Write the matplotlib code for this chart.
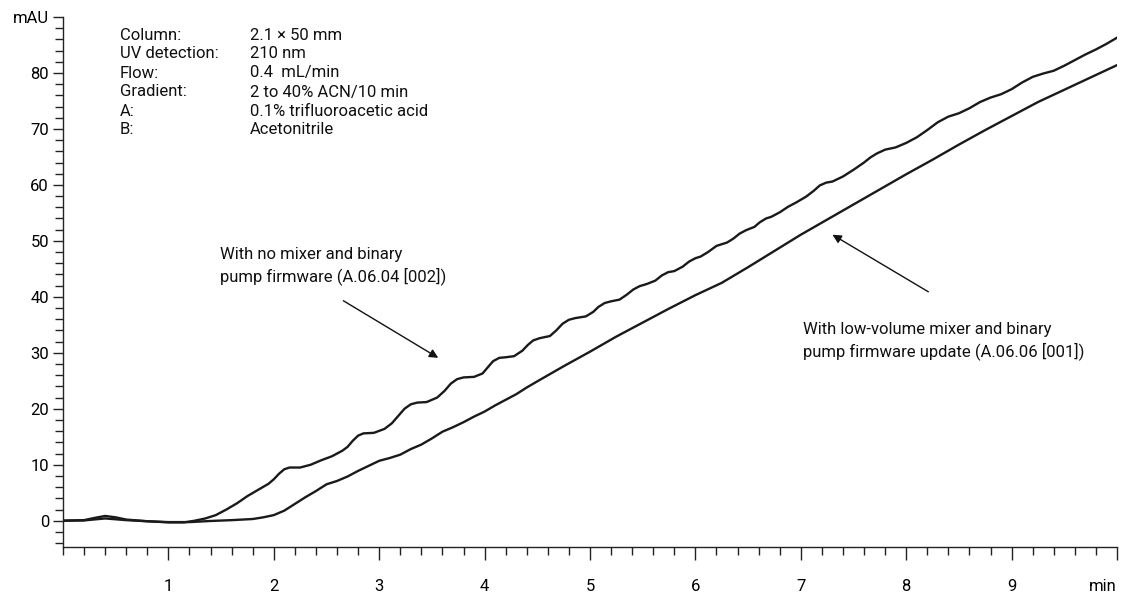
import matplotlib
matplotlib.use("Agg")
import matplotlib.pyplot as plt
from matplotlib.ticker import MultipleLocator

plt.rcParams['font.family'] = ['Roboto', 'DejaVu Sans']

# ---- data ----
t_nomixer = [0.0, 0.2, 0.3, 0.4, 0.5, 0.6, 0.8, 1.0, 1.15, 1.25, 1.35, 1.45, 1.55, 1.65,
             1.75, 1.85, 1.95, 2.0, 2.05, 2.1, 2.15, 2.25, 2.35, 2.45, 2.55, 2.65, 2.7, 2.75,
             2.8, 2.85, 2.95, 3.05, 3.12, 3.18, 3.24, 3.3, 3.36, 3.45, 3.55, 3.62, 3.68,
             3.74, 3.8, 3.9, 3.98, 4.03, 4.08, 4.14, 4.2, 4.28, 4.36, 4.41, 4.46, 4.52,
             4.62, 4.68, 4.74, 4.8, 4.86, 4.96, 5.03, 5.08, 5.14, 5.2, 5.28, 5.35, 5.41,
             5.47, 5.54, 5.62, 5.68, 5.74, 5.8, 5.88, 5.94, 6.0, 6.05, 6.12, 6.2, 6.3,
             6.36, 6.42, 6.48, 6.56, 6.61, 6.67, 6.72, 6.8, 6.88, 6.96, 7.05, 7.12, 7.18,
             7.24, 7.3, 7.4, 7.5, 7.6, 7.66, 7.72, 7.8, 7.9, 8.0, 8.1, 8.2, 8.3, 8.4, 8.5,
             8.6, 8.7, 8.8, 8.9, 9.0, 9.1, 9.2, 9.3, 9.4, 9.5, 9.6, 9.7, 9.8, 9.9, 10.0]
y_nomixer = [0.0, 0.1, 0.5, 0.85, 0.6, 0.2, -0.1, -0.3, -0.3, 0.0, 0.4, 1.0, 2.0, 3.1,
             4.4, 5.5, 6.6, 7.4, 8.4, 9.2, 9.5, 9.5, 10.0, 10.8, 11.5, 12.5, 13.2, 14.3,
             15.2, 15.6, 15.7, 16.4, 17.4, 18.7, 20.0, 20.8, 21.1, 21.2, 22.0, 23.2, 24.5,
             25.3, 25.6, 25.7, 26.3, 27.4, 28.5, 29.1, 29.2, 29.4, 30.4, 31.4, 32.2, 32.6,
             33.0, 34.0, 35.2, 35.9, 36.2, 36.5, 37.3, 38.2, 38.9, 39.2, 39.5, 40.4, 41.3,
             41.9, 42.3, 42.9, 43.8, 44.4, 44.6, 45.4, 46.3, 46.9, 47.2, 48.0, 49.1, 49.7,
             50.4, 51.3, 51.9, 52.5, 53.3, 54.0, 54.3, 55.1, 56.1, 56.9, 57.9, 58.9, 59.9,
             60.4, 60.6, 61.5, 62.7, 64.0, 64.9, 65.6, 66.3, 66.7, 67.5, 68.5, 69.8, 71.2,
             72.2, 72.8, 73.7, 74.8, 75.6, 76.2, 77.1, 78.3, 79.3, 79.9, 80.4, 81.3, 82.3,
             83.3, 84.2, 85.2, 86.3]

t_lowvol = [0.0, 0.2, 0.4, 0.6, 0.8, 1.0, 1.2, 1.4, 1.6, 1.8, 1.9, 2.0, 2.1, 2.2, 2.3,
            2.4, 2.5, 2.6, 2.7, 2.8, 2.9, 3.0, 3.1, 3.2, 3.3, 3.4, 3.5, 3.6, 3.7, 3.8,
            3.9, 4.0, 4.1, 4.2, 4.3, 4.4, 4.5, 4.75, 5.0, 5.25, 5.5, 5.75, 6.0, 6.25,
            6.5, 6.75, 7.0, 7.25, 7.5, 7.75, 8.0, 8.25, 8.5, 8.75, 9.0, 9.25, 9.5, 9.75, 10.0]
y_lowvol = [0.0, 0.05, 0.4, 0.1, -0.1, -0.25, -0.25, -0.05, 0.1, 0.3, 0.6, 1.0, 1.8, 3.0,
            4.2, 5.3, 6.5, 7.1, 7.9, 8.9, 9.8, 10.7, 11.2, 11.8, 12.8, 13.6, 14.7, 15.9,
            16.7, 17.6, 18.6, 19.5, 20.6, 21.6, 22.6, 23.8, 24.9, 27.6, 30.2, 32.9, 35.4,
            37.9, 40.3, 42.5, 45.3, 48.2, 51.1, 53.8, 56.5, 59.2, 61.9, 64.5, 67.2, 69.8,
            72.3, 74.8, 77.0, 79.2, 81.4]

info_keys = ["Column:", "UV detection:", "Flow:", "Gradient:", "A:", "B:"]
info_vals = ["2.1 \u00d7 50 mm", "210 nm", "0.4  mL/min", "2 to 40% ACN/10 min",
             "0.1% trifluoroacetic acid", "Acetonitrile"]

x_ticks = [1, 2, 3, 4, 5, 6, 7, 8, 9, 10]
x_labels = ["1", "2", "3", "4", "5", "6", "7", "8", "9", "min"]
y_ticks = [0, 10, 20, 30, 40, 50, 60, 70, 80, 90]
y_labels = ["0", "10", "20", "30", "40", "50", "60", "70", "80", "mAU"]

label_nomixer = "With no mixer and binary\npump firmware (A.06.04 [002])"
label_lowvol = "With low-volume mixer and binary\npump firmware update (A.06.06 [001])"

# ---- figure ----
W, H = 1121, 595
fig = plt.figure(figsize=(W / 100, H / 100), dpi=100)
ax = fig.add_axes([63 / W, (H - 547) / H, (1117 - 63) / W, (547 - 17) / H])

line_col = "#1a1a1a"
ax.plot(t_nomixer, y_nomixer, color=line_col, lw=1.7, solid_joinstyle='round')
ax.plot(t_lowvol, y_lowvol, color=line_col, lw=1.7, solid_joinstyle='round')

ax.set_xlim(0, 10)
ax.set_ylim(-4.7, 90)
for s in ["top", "right"]:
    ax.spines[s].set_visible(False)
for s in ["left", "bottom"]:
    ax.spines[s].set_linewidth(1.0)
    ax.spines[s].set_color("#222222")

ax.set_xticks(x_ticks)
ax.set_xticklabels(x_labels)
ax.xaxis.set_minor_locator(MultipleLocator(0.2))
ax.set_yticks(y_ticks)
ax.set_yticklabels(y_labels)
ax.yaxis.set_minor_locator(MultipleLocator(2))

fs = 12
ax.tick_params(axis='x', which='major', direction='out', length=9, width=1, pad=14,
               labelsize=fs, color="#222222")
ax.tick_params(axis='x', which='minor', direction='out', length=6, width=1, color="#222222")
ax.tick_params(axis='y', which='major', direction='out', length=7, width=1, pad=3,
               labelsize=fs, color="#222222")
ax.tick_params(axis='y', which='minor', direction='out', length=6, width=1, color="#222222")
ax.get_xticklabels()[-1].set_ha('right')

# info block
for i, (k, v) in enumerate(zip(info_keys, info_vals)):
    yy = 1 - (35 + 19 * i) / H
    fig.text(120 / W, yy, k, fontsize=fs, va='center', ha='left', color="#111111")
    fig.text(250 / W, yy, v, fontsize=fs, va='center', ha='left', color="#111111")

# annotations
fig.text(220 / W, 1 - 266 / H, label_nomixer, fontsize=fs, va='center', ha='left',
         linespacing=1.3, color="#111111")
fig.text(803 / W, 1 - 341 / H, label_lowvol, fontsize=fs, va='center', ha='left',
         linespacing=1.3, color="#111111")

arrow_kw = dict(arrowstyle='-|>', color="#111111", lw=1.0, mutation_scale=13,
                shrinkA=0, shrinkB=0)
ax.annotate("", xy=(3.56, 29.1), xytext=(2.66, 39.3), arrowprops=arrow_kw)
ax.annotate("", xy=(7.30, 51.1), xytext=(8.21, 40.9), arrowprops=arrow_kw)

fig.savefig("out.png", dpi=100)
